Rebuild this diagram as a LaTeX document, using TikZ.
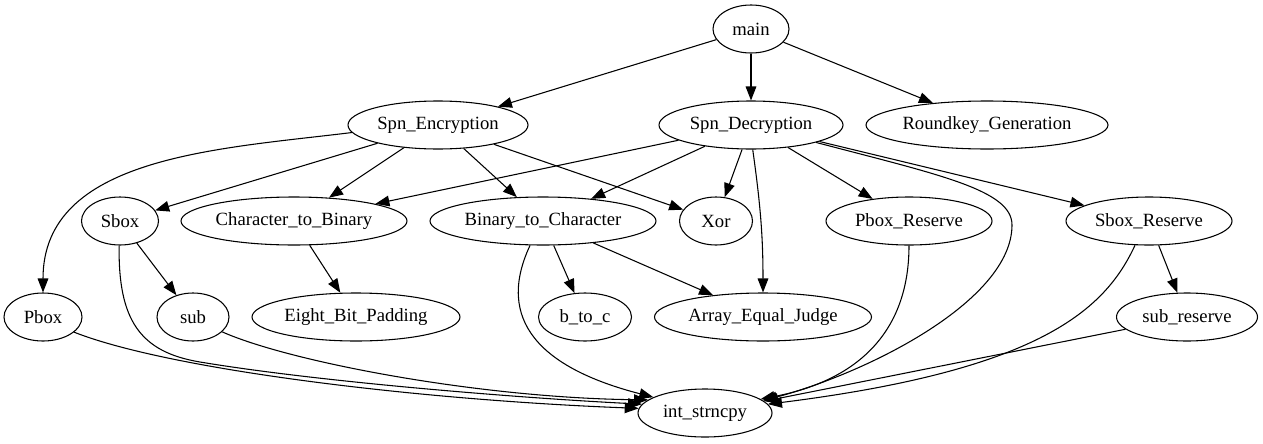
\documentclass[tikz,border=0pt]{standalone}
\usepackage{fontspec}
\setmainfont{Liberation Serif}
\usetikzlibrary{arrows.meta,shapes.geometric}

\begin{document}
\begin{tikzpicture}[->,>={Triangle[length=10.5pt,width=8pt]}, line width=0.8pt, x=0.75pt, y=0.75pt,
  fn/.style={draw, ellipse, inner sep=0pt, minimum height=36pt, font=\fontsize{14}{16}\selectfont}]
\useasboundingbox (0,0) rectangle (1263,-443);
% Nodos
\node [fn, minimum width=57pt]     (main) at (751,-29)  {main};
\node [fn, minimum width=135pt]    (SE)   at (438,-125) {Spn\_Encryption};
\node [fn, minimum width=138pt]    (SD)   at (751,-125) {Spn\_Decryption};
\node [fn, minimum width=181.5pt]  (RG)   at (987,-125) {Roundkey\_Generation};
\node [fn, minimum width=57.75pt]  (Sbox) at (120,-221) {Sbox};
\node [fn, minimum width=169.5pt]  (C2B)  at (294,-221) {Character\_to\_Binary};
\node [fn, minimum width=169.5pt]  (B2C)  at (543,-221) {Binary\_to\_Character};
\node [fn, minimum width=54.75pt]  (Xor)  at (716,-221) {Xor};
\node [fn, minimum width=124.5pt]  (PR)   at (909,-221) {Pbox\_Reserve};
\node [fn, minimum width=124.5pt]  (SR)   at (1149,-221) {Sbox\_Reserve};
\node [fn, minimum width=58.5pt]   (Pbox) at (43,-317)  {Pbox};
\node [fn, minimum width=54pt]     (sub)  at (193,-317) {sub};
\node [fn, minimum width=156pt]    (EBP)  at (356,-317) {Eight\_Bit\_Padding};
\node [fn, minimum width=69.75pt]  (btc)  at (585,-317) {b\_to\_c};
\node [fn, minimum width=162.75pt] (AEJ)  at (763,-317) {Array\_Equal\_Judge};
\node [fn, minimum width=105.75pt] (subr) at (1187,-317) {sub\_reserve};
\node [fn, minimum width=100.5pt]  (int)  at (705,-413) {int\_strncpy};
% Ejes
% ---
% main
% ---
\path (main) edge (SE);
\path (main) edge (SD);
\path (main) edge (RG);
% ---
% Spn_Encryption
% ---
\path (SE.185) edge [out=187, in=90] (Pbox);
\path (SE) edge (Sbox);
\path (SE) edge (C2B);
\path (SE) edge (B2C);
\path (SE) edge (Xor);
% ---
% Spn_Decryption
% ---
\path (SD) edge (C2B);
\path (SD) edge (B2C);
\path (SD) edge (Xor);
\path (SD.-86) edge [out=-82, in=90] (AEJ);
\path (SD) edge (PR);
\path (SD) edge (SR);
\draw (SD.-15) .. controls (940,-175) and (1012,-190) .. (1012,-225)
      .. controls (1012,-300) and (870,-372) .. (int.12);
% ---
% Sbox, Pbox, sub
% ---
\path (Sbox) edge (sub);
\draw (Sbox.268) .. controls (118,-320) and (140,-352) .. (200,-362)
      .. controls (320,-382) and (520,-398) .. (int.172);
\draw (Pbox.-26) .. controls (170,-370) and (420,-400) .. (int.176);
\draw (sub.-27) .. controls (290,-362) and (480,-398) .. (int.167);
% ---
% Character_to_Binary, Binary_to_Character
% ---
\path (C2B) edge (EBP);
\path (B2C) edge (btc);
\path (B2C) edge (AEJ);
\draw (B2C.-118) .. controls (495,-320) and (540,-368) .. (int.163);
% ---
% Pbox_Reserve, Sbox_Reserve, sub_reserve
% ---
\draw (PR.south) .. controls (909,-330) and (860,-380) .. (int.14);
\path (SR) edge (subr);
\draw (SR.-120) .. controls (1105,-310) and (1040,-370) .. (int.8);
\path (subr) edge (int);
\end{tikzpicture}
\end{document}
